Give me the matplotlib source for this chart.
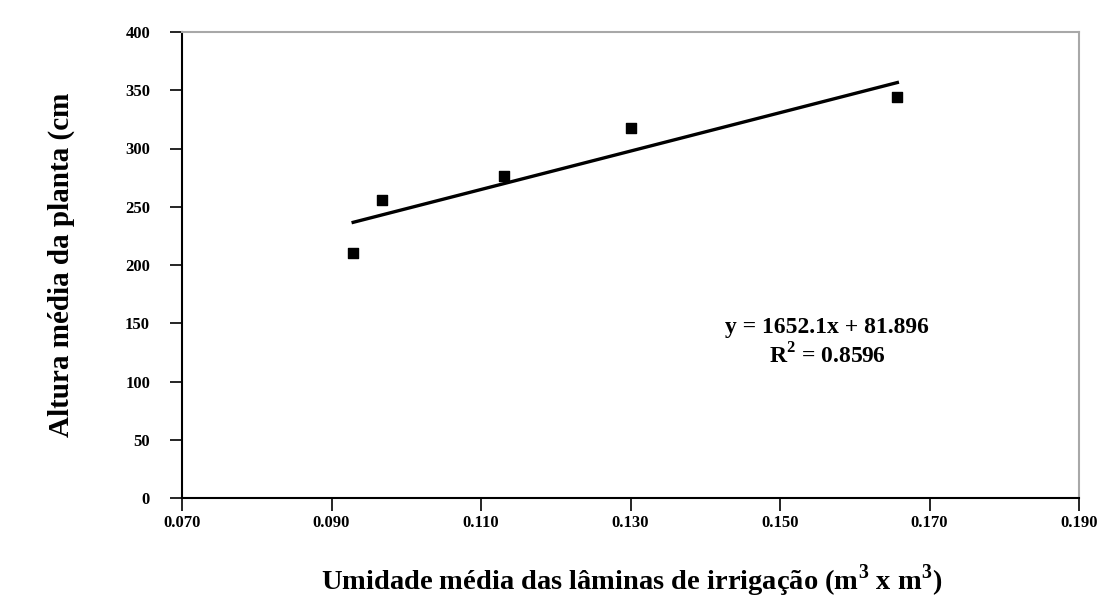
import matplotlib
matplotlib.use("Agg")
import matplotlib.pyplot as plt
import numpy as np

# Data
umidade = [0.0929, 0.0967, 0.1131, 0.1301, 0.1657]
altura = [210, 256, 276, 318, 344]
x_ticks = [0.070, 0.090, 0.110, 0.130, 0.150, 0.170, 0.190]
y_ticks = [0, 50, 100, 150, 200, 250, 300, 350, 400]

plt.rcParams['font.family'] = ['Liberation Serif', 'DejaVu Serif']
plt.rcParams['mathtext.fontset'] = 'custom'
plt.rcParams['mathtext.rm'] = 'Liberation Serif:bold'
plt.rcParams['mathtext.bf'] = 'Liberation Serif:bold'

fig = plt.figure(figsize=(11.17, 6.09), dpi=100)
W, H = 1117, 609
left, right, top, bottom = 182, 1079, 32, 498
ax = fig.add_axes([left / W, 1 - bottom / H, (right - left) / W, (bottom - top) / H])

ax.scatter(umidade, altura, marker='s', s=50, color='black', zorder=3)

coef = np.polyfit(umidade, altura, 1)
xl = np.array([min(umidade), max(umidade)])
ax.plot(xl, np.polyval(coef, xl), color='black', lw=2.4)

ax.set_xlim(0.07, 0.19)
ax.set_ylim(0, 400)
ax.set_xticks(x_ticks)
ax.set_xticklabels([f"{v:.3f}" for v in x_ticks], fontsize=12, fontweight='bold')
ax.set_yticks(y_ticks)
ax.set_yticklabels([str(v) for v in y_ticks], fontsize=12, fontweight='bold')
ax.tick_params(axis='both', direction='out', length=9, width=1.2, color='black')
ax.tick_params(axis='x', pad=3)
ax.tick_params(axis='y', pad=14)

for s in ['left', 'bottom']:
    ax.spines[s].set_linewidth(1.5)
    ax.spines[s].set_color('black')
for s in ['top', 'right']:
    ax.spines[s].set_linewidth(1.5)
    ax.spines[s].set_color('#a8a8a8')

fig.text(827 / W, 1 - 327 / H, "y = 1652.1x + 81.896", ha='center', va='center',
         fontsize=17, fontweight='bold')
fig.text(827 / W, 1 - 356 / H, r"R$^{2}$ = 0.8596", ha='center', va='center',
         fontsize=17, fontweight='bold')

fig.text(61 / W, 1 - 265 / H, "Altura média da planta (cm", rotation=90,
         ha='center', va='center', fontsize=21, fontweight='bold')
fig.text(632 / W, 1 - 581 / H, r"Umidade média das lâminas de irrigação (m$^{3}$ x m$^{3}$)",
         ha='center', va='center', fontsize=20.5, fontweight='bold')

fig.savefig("out.png", dpi=100, facecolor='white')
